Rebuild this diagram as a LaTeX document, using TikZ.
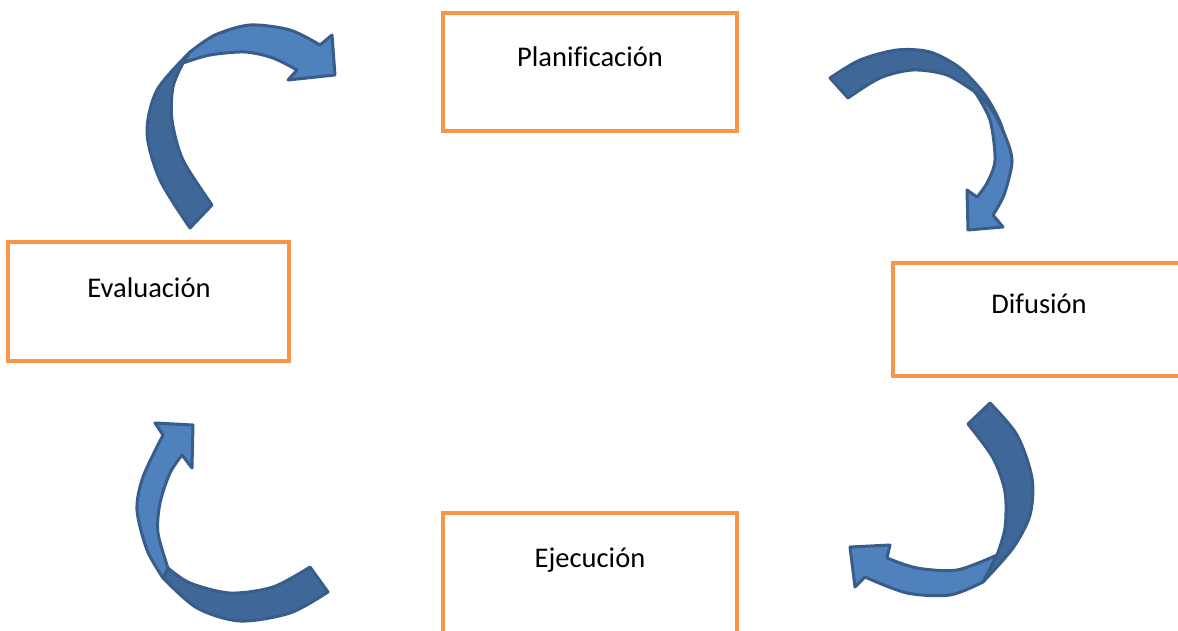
\documentclass[tikz,border=0pt]{standalone}
\usepackage{fontspec}
\setmainfont{Carlito}[Ligatures=NoCommon]
\definecolor{boxor}{HTML}{F79646}
\definecolor{arrlight}{HTML}{4F81BD}
\definecolor{arrdark}{HTML}{3F6899}
\definecolor{arrline}{HTML}{385D8A}
\begin{document}
\begin{tikzpicture}[x=1pt,y=-1pt,
 stagebox/.style={draw=boxor,line width=4pt,inner sep=0pt,outer sep=0pt,anchor=north west},
 stagetext/.style={font=\fontsize{28.5}{34}\selectfont,inner sep=0pt,anchor=base},
 backpart/.style={fill=arrdark,draw=arrline,line width=3pt,line join=round},
 frontpart/.style={fill=arrlight,draw=arrline,line width=3pt,line join=round}]
\clip (0,0) rectangle (1178,631);
\useasboundingbox (0,0) rectangle (1178,631);

% boxes
\node[stagebox,minimum width=294pt,minimum height=118pt] (plbox) at (443,13) {};
\node[stagebox,minimum width=281pt,minimum height=119pt] (evbox) at (8,242) {};
\node[stagebox,minimum width=294pt,minimum height=113pt] (dibox) at (893,263) {};
\node[stagebox,minimum width=294pt,minimum height=120pt] (ejbox) at (443,513) {};

\node[stagetext] (pltext) at (590,67) {Planificación};
\node[stagetext] (evtext) at (149,297) {Evaluación};
\node[stagetext] (ditext) at (1039,313) {Difusión};
\node[stagetext] (ejtext) at (590,567) {Ejecución};

% arrow 1 (top left)
\path[backpart] plot[smooth] coordinates {(190,228) (160,180) (147,133) (157,90) (190,52)}
  -- (183,63) -- plot[smooth] coordinates {(183,63) (173,87) (172,120) (183,160) (212,205)} -- cycle;
\path[frontpart] plot[smooth] coordinates {(190,52) (215,35) (250,25) (290,30) (320,45)}
  -- (332,35) -- (335,75) -- (288,80) -- (297,70)
  -- plot[smooth] coordinates {(297,70) (273,58) (245,52) (210,55) (183,63)} -- cycle;

% arrow 2 (top right)
\path[backpart] plot[smooth] coordinates {(830,78) (860,60) (897,50) (930,52) (960,68) (985,95) (1000,122) (1008,148)}
  -- plot[smooth] coordinates {(1008,148) (995,112) (975,92)}
  -- plot[smooth] coordinates {(975,92) (947,75) (913,70) (880,78) (848,98)} -- cycle;
\path[frontpart] plot[smooth] coordinates {(975,92) (990,120) (995,160) (987,183) (977,197)}
  -- (967,190) -- (968,230) -- (1003,227) -- (993,215)
  -- plot[smooth] coordinates {(993,215) (1004,195) (1012,162) (1006,138) (992,110) (975,92)} -- cycle;

% arrow 3 (bottom right)
\path[backpart] plot[smooth] coordinates {(990,403) (1017,435) (1032,478) (1030,515) (1013,548) (983,582)}
  -- (997,555) -- plot[smooth] coordinates {(997,555) (1005,528) (1005,492) (993,458) (968,424)} -- cycle;
\path[frontpart] plot[smooth] coordinates {(997,555) (957,570) (917,568) (887,558)}
  -- (890,545) -- (850,547) -- (855,587) -- (865,577)
  -- plot[smooth] coordinates {(865,577) (907,593) (950,595) (983,582)} -- cycle;

% arrow 4 (bottom left)
\path[backpart] plot[smooth] coordinates {(328,592) (290,613) (240,621) (197,608) (163,578)}
  -- (168,568) -- plot[smooth] coordinates {(168,568) (190,583) (230,593) (273,587) (310,567)} -- cycle;
\path[frontpart] plot[smooth] coordinates {(163,578) (147,550) (137,510) (143,477) (163,435)}
  -- (155,423) -- (193,425) -- (192,468) -- (182,455)
  -- plot[smooth] coordinates {(182,455) (170,473) (160,503) (158,533) (168,568)} -- cycle;
\end{tikzpicture}
\end{document}
